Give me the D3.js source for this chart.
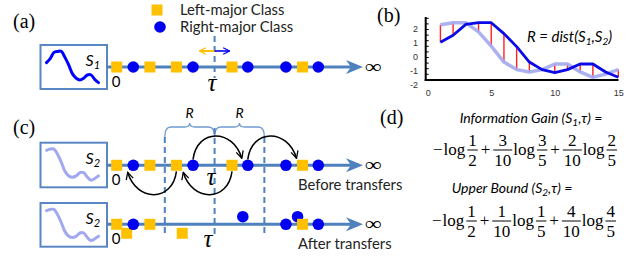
<!DOCTYPE html>
<html><head><meta charset="utf-8">
<script src="https://cdn.jsdelivr.net/npm/d3@7"></script>
<style>body{margin:0;background:#fff} svg{display:block}</style>
</head><body><svg id="c" width="643" height="257"></svg>
<script>
// ---------------- data ----------------
const timeSteps = [1,2,3,4,5,6,7,8,9,10,11,12,13,14,15];
const S1 = [1.05,1.55,2.33,2.45,2.45,1.67,0.74,-0.36,-0.9,-1.12,-0.9,-0.5,-0.5,-1.07,-1.45];
const S2 = [2.3,2.45,2.45,1.79,0.78,-0.36,-0.9,-1.07,-0.9,-0.5,-0.5,-1.07,-1.45,-1.22,-0.9];
const bTicksX = [0,5,10,15];
const bTicksY = [-2,-1,0,1,2];
const pointPos = [0,1,2,3.6,4.6,6.95,7.9,10.2,11.2,12.15];
const pointClass = ["L","R","L","L","R","L","R","R","L","R"];
const tau = 5.9;
const R = 3;
const transferIndex = [4,6,3,5];
const transferDir = [1,1,-1,-1];
const legendLabels = ["Left-major Class","Right-major Class"];
const gainFracs = [["1","2"],["3","10"],["3","5"],["2","10"],["2","5"]];
const boundFracs = [["1","2"],["1","10"],["1","5"],["4","10"],["4","5"]];

// ---------------- styles ----------------
const SQ = "#ffc000", CI = "#0000f0", LINE = "#4f81bd", BOX = "#5a86c3";
const DARK = "#0a0ae6", LIGHT = "#a2a8f0";
const sans = "Lato, 'Open Sans', sans-serif";
const serif = "'Liberation Serif', 'Times New Roman', serif";

const svg = d3.select("#c");
const defs = svg.append("defs");
defs.append("marker").attr("id","ah").attr("viewBox","-1 -5 10 10")
  .attr("markerWidth",9).attr("markerHeight",9).attr("markerUnits","userSpaceOnUse")
  .attr("refX",8).attr("refY",0).attr("orient","auto")
  .append("path").attr("d","M0,-4 L8,0 L0,4").attr("fill","none").attr("stroke","#000").attr("stroke-width",1.4);
function arrowMarker(id,color){
  defs.append("marker").attr("id",id).attr("viewBox","-1 -5 10 10")
    .attr("markerWidth",8).attr("markerHeight",8).attr("markerUnits","userSpaceOnUse")
    .attr("refX",8).attr("refY",0).attr("orient","auto")
    .append("path").attr("d","M0,-4 L8,0 L0,4").attr("fill","none").attr("stroke",color).attr("stroke-width",1.6);
}
arrowMarker("ahY",SQ); arrowMarker("ahB",CI);

const px = d3.scaleLinear().domain([0,12.15]).range([116.7,318.3]);

// panel labels
[["(a)",13,28],["(b)",377,22],["(c)",13,134],["(d)",380,124]].forEach(([t,x,y])=>{
  svg.append("text").attr("x",x).attr("y",y).text(t)
    .attr("font-family",serif).attr("font-size",20).attr("fill","#000");
});

// legend
svg.append("rect").attr("x",157-5.5).attr("y",10-5.5).attr("width",11).attr("height",11).attr("fill",SQ);
svg.append("circle").attr("cx",160).attr("cy",27).attr("r",5.8).attr("fill",CI);
legendLabels.forEach((t,i)=>{
  svg.append("text").attr("x",180).attr("y",15+i*17).text(t)
    .attr("font-family",sans).attr("font-size",14.8).attr("fill","#222");
});

// series mini box
function seriesBox(x,y,w,h,data,color,sub){
  svg.append("rect").attr("x",x).attr("y",y).attr("width",w).attr("height",h)
    .attr("fill","#fff").attr("stroke",BOX).attr("stroke-width",2);
  const sx = d3.scaleLinear().domain([1,15]).range([x+6,x+58]);
  const sy = d3.scaleLinear().domain([2.5,-1.5]).range([y+6,y+38]);
  svg.append("path").datum(data)
    .attr("d",d3.line().x((d,i)=>sx(timeSteps[i])).y(d=>sy(d)).curve(d3.curveCatmullRom))
    .attr("fill","none").attr("stroke",color).attr("stroke-width",3).attr("stroke-linecap","round");
  const t = svg.append("text").attr("x",x+45).attr("y",y+21)
    .attr("font-family",sans).attr("font-style","italic").attr("font-size",16).attr("fill","#000");
  t.append("tspan").text("S");
  t.append("tspan").text(sub).attr("font-size",11).attr("dy",3);
}

function numberLine(y){
  svg.append("line").attr("x1",107).attr("x2",356).attr("y1",y).attr("y2",y)
    .attr("stroke",LINE).attr("stroke-width",3);
  const tip = 363;
  svg.append("path").attr("d",`M${tip},${y} L${tip-17},${y-7} L${tip-12},${y} L${tip-17},${y+7} Z`)
    .attr("fill",LINE);
  svg.append("text").attr("x",364.5).attr("y",y+5.5).text("∞")
    .attr("textLength",17).attr("lengthAdjust","spacingAndGlyphs")
    .attr("font-family",serif).attr("font-size",19).attr("fill","#000");
}
function marker(x,y,cls){
  if(cls==="L"){
    svg.append("rect").attr("x",x-5.5).attr("y",y-5.5).attr("width",11).attr("height",11).attr("fill",SQ);
  } else {
    svg.append("circle").attr("cx",x).attr("cy",y).attr("r",5.8).attr("fill",CI);
  }
}
function zeroLabel(y){
  svg.append("text").attr("x",116).attr("y",y).attr("text-anchor","middle").text("0")
    .attr("font-family",sans).attr("font-size",15).attr("fill","#000");
}
function tauLabel(x,y){
  svg.append("text").attr("x",x).attr("y",y).attr("text-anchor","middle").text("τ")
    .attr("font-family",serif).attr("font-style","italic").attr("font-size",25).attr("fill","#000");
}
function dashed(x,y1,y2){
  svg.append("line").attr("x1",x).attr("x2",x).attr("y1",y1).attr("y2",y2)
    .attr("stroke",LINE).attr("stroke-width",2).attr("stroke-dasharray","6,4");
}

// ---------- panel (a) ----------
const aY = 67;
seriesBox(40.5,45,66.5,44,S1,"#0000ff","1");
dashed(px(tau),36,78);
numberLine(aY);
pointPos.forEach((p,i)=>marker(px(p),aY,pointClass[i]));
zeroLabel(87);
tauLabel(212,91);
svg.append("line").attr("x1",px(tau)).attr("x2",px(tau)-15).attr("y1",51).attr("y2",51)
  .attr("stroke",SQ).attr("stroke-width",2).attr("marker-end","url(#ahY)");
svg.append("line").attr("x1",px(tau)).attr("x2",px(tau)+15).attr("y1",51).attr("y2",51)
  .attr("stroke",CI).attr("stroke-width",1.6).attr("marker-end","url(#ahB)");

// ---------- panel (c) ----------
const cT = 165.3, cB = 224.3;
seriesBox(40.5,142.7,66.5,44.6,S2,LIGHT,"2");
seriesBox(40.5,203,66.5,43.7,S2,LIGHT,"2");
// R braces
const braceY = 127;
[[tau-R,tau],[tau,tau+R]].forEach(([a,b])=>{
  const x0=px(a), x1=px(b), xm=(x0+x1)/2;
  svg.append("path").attr("d",
    `M${x0},${braceY+10} Q${x0},${braceY} ${x0+6},${braceY} L${xm-5},${braceY} Q${xm},${braceY} ${xm},${braceY-4} Q${xm},${braceY} ${xm+5},${braceY} L${x1-6},${braceY} Q${x1},${braceY} ${x1},${braceY+10}`)
    .attr("fill","none").attr("stroke","#6f9bd1").attr("stroke-width",1.3);
  svg.append("text").attr("x",xm).attr("y",118).attr("text-anchor","middle").text("R")
    .attr("font-family",sans).attr("font-style","italic").attr("font-size",14).attr("fill","#000");
});
dashed(px(tau-R),137,233);
dashed(px(tau),128,236);
dashed(px(tau+R),137,233);

numberLine(cT);
numberLine(cB);
pointPos.forEach((p,i)=>marker(px(p),cT,pointClass[i]));
// transfer arcs
transferIndex.forEach((idx,k)=>{
  const dir = transferDir[k];
  const s = dir>0 ? -1 : 1;
  const x0 = px(pointPos[idx]), x1 = px(pointPos[idx]+dir*R);
  const d = `M${x0},${cT+s*6} C${x0+dir*4},${cT+s*37} ${x1-dir*10},${cT+s*37} ${x1-dir*1},${cT+s*7}`;
  svg.append("path").attr("d",d).attr("fill","none").attr("stroke","#000").attr("stroke-width",1.5)
    .attr("marker-end","url(#ah)");
});
// after transfers: moved points first, then on-line points
transferIndex.forEach((idx,k)=>{
  const dir = transferDir[k];
  marker(px(pointPos[idx]+dir*R), cB + (dir>0 ? -7.6 : 9), pointClass[idx]);
});
pointPos.forEach((p,i)=>{ if(!transferIndex.includes(i)) marker(px(p),cB,pointClass[i]); });
zeroLabel(185); zeroLabel(244);
tauLabel(211,185); tauLabel(208,247);
svg.append("text").attr("x",298).attr("y",189.5).text("Before transfers")
  .attr("font-family",sans).attr("font-size",14.8).attr("fill","#222");
svg.append("text").attr("x",298).attr("y",248.5).text("After transfers")
  .attr("font-family",sans).attr("font-size",14.8).attr("fill","#222");

// ---------- panel (b) ----------
const bx = d3.scaleLinear().domain([0,15]).range([427.7,618.3]);
const by = d3.scaleLinear().domain([-2,2]).range([85,29]);
const gb = svg.append("g");
gb.append("g").attr("transform","translate(425.7,0)")
  .call(d3.axisRight(by).tickValues(d3.range(-1.6,2.9,0.4)).tickSize(3).tickFormat(""))
  .call(g=>g.select(".domain").remove())
  .call(g=>g.selectAll("line").attr("stroke","#000"));
gb.append("g").attr("transform","translate(421,0)")
  .call(d3.axisLeft(by).tickValues(bTicksY).tickSize(0).tickFormat(d=>d<0?"-"+Math.abs(d):d))
  .call(g=>g.select(".domain").remove())
  .call(g=>g.selectAll("text").attr("font-family","'Liberation Sans', Arial, sans-serif").attr("font-size",9).attr("fill","#333").attr("dx",0));
gb.append("g").attr("transform","translate(0,87)")
  .call(d3.axisBottom(bx).tickValues(bTicksX).tickSize(0))
  .call(g=>g.select(".domain").remove())
  .call(g=>g.selectAll("text").attr("font-family","'Liberation Sans', Arial, sans-serif").attr("font-size",9).attr("fill","#333"));
gb.append("line").attr("x1",425.7).attr("x2",425.7).attr("y1",17).attr("y2",81).attr("stroke","#000").attr("stroke-width",2);
gb.append("line").attr("x1",424.7).attr("x2",618.5).attr("y1",80).attr("y2",80).attr("stroke","#000").attr("stroke-width",2);
// red distance lines
gb.selectAll(".dist").data(timeSteps).enter().append("line")
  .attr("x1",d=>bx(d)).attr("x2",d=>bx(d))
  .attr("y1",(d,i)=>by(S1[i])).attr("y2",(d,i)=>by(S2[i]))
  .attr("stroke","#ff2020").attr("stroke-width",1.4);
const ln = d3.line().x((d,i)=>bx(timeSteps[i])).y(d=>by(d));
gb.append("path").datum(S2).attr("d",ln).attr("fill","none").attr("stroke",LIGHT).attr("stroke-width",3.5).attr("stroke-opacity",0.9).attr("stroke-linejoin","round");
gb.append("path").datum(S1).attr("d",ln).attr("fill","none").attr("stroke",DARK).attr("stroke-width",2.8).attr("stroke-linejoin","round");
const rt = gb.append("text").attr("x",527).attr("y",42)
  .attr("font-family",sans).attr("font-style","italic").attr("font-size",15).attr("fill","#000");
rt.append("tspan").text("R = dist(S");
rt.append("tspan").text("1").attr("font-size",10).attr("dy",3);
rt.append("tspan").text(",S").attr("dy",-3);
rt.append("tspan").text("2").attr("font-size",10).attr("dy",3);
rt.append("tspan").text(")").attr("dy",-3);

// ---------- panel (d) ----------
function heading(x,y,pre,sub){
  const t = svg.append("text").attr("x",x).attr("y",y).attr("text-anchor","middle")
    .attr("font-family",sans).attr("font-style","italic").attr("font-size",14).attr("fill","#000");
  t.append("tspan").text(pre+" (S");
  t.append("tspan").text(sub).attr("font-size",10).attr("dy",3);
  t.append("tspan").text(",τ) =").attr("dy",-3);
}
heading(531,123,"Information Gain","1");
heading(512,193,"Upper Bound","2");

function formula(fracs,x0,targetW,barY){
  const g = svg.append("g");
  const inner = g.append("g");
  const fs = 17.5;
  let x = 0;
  const tokens = ["−","log",fracs[0],"+",fracs[1],"log",fracs[2],"+",fracs[3],"log",fracs[4]];
  tokens.forEach((tok,i)=>{
    if(i>0){
      const prev=tokens[i-1];
      x += (tok==="+"||prev==="+") ? 3 : (prev==="−" ? 1 : (prev==="log" ? 2 : 1));
    }
    if(typeof tok==="string"){
      const t = inner.append("text").attr("x",x).attr("y",barY+5).text(tok)
        .attr("font-family",serif).attr("font-size",fs).attr("fill","#000");
      x += t.node().getComputedTextLength();
    } else {
      const n = inner.append("text").attr("y",barY-4).text(tok[0]).attr("text-anchor","middle")
        .attr("font-family",serif).attr("font-size",fs).attr("fill","#000");
      const d = inner.append("text").attr("y",barY+16.5).text(tok[1]).attr("text-anchor","middle")
        .attr("font-family",serif).attr("font-size",fs).attr("fill","#000");
      const w = Math.max(n.node().getComputedTextLength(), d.node().getComputedTextLength()) + 2;
      n.attr("x",x+w/2); d.attr("x",x+w/2);
      inner.append("line").attr("x1",x).attr("x2",x+w).attr("y1",barY).attr("y2",barY)
        .attr("stroke","#000").attr("stroke-width",1);
      x += w;
    }
  });
  inner.attr("transform",`translate(${x0},0) scale(${targetW/x},1)`);
}
formula(gainFracs,433,184,150);
formula(boundFracs,432,184,221);
</script></body></html>
